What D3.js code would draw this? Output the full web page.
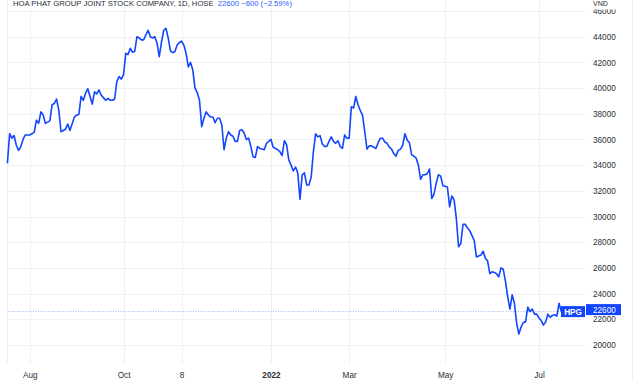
<!DOCTYPE html>
<html><head><meta charset="utf-8">
<script src="https://cdn.jsdelivr.net/npm/d3@7"></script>
<style>html,body{margin:0;padding:0;background:#fff;}svg{display:block;}</style>
</head><body>
<svg id="c" width="640" height="381"></svg>
<script>
// trading session number (0 = 19 Jul 2021) and closing price (VND)
const sessions = [0,1,2,3,4,5,6,7,8,10,12,13,14,15,16,17,19,20,21,22,23,24,26,27,28,30,31,32,33,34,35,36,37,38,39,40,41,42,44,45,46,47,48,
49,50,51,52,53,54,55,56,57,58,59,60,61,62,63,64,65,66,67,68,69,70,71,72,73,74,75,76,77,78,79,80,81,82,83,84,85,86,87,88,89,90,91,92,93,94,95,
96,97,98,99,100,101,102,103,104,105,106,107,108,109,110,111,112,113,114,115,116,118,119,121,122,123,124,125,126,127,128,129,130,131,132,133,134,135,136,137,138,139,140,141,142,143,144,145,146,
147,148,149,150,151,152,153,154,155,156,157,158,159,160,161,162,163,165,166,167,168,169,170,171,172,173,174,175,176,177,178,179,180,181,182,183,184,185,186,187,188,189,190,191,192,193,194,195,196,197,
198,199,200,201,202,203,204,205,206,207,209,210,212,213,214,215,216,217,218,219,220,221,222,223,224,225,226,227,228,229,230,231,232,233,234,235,236,237,238,239,240,241,242,243,244,245,246,247,248];
const prices = [34150,36450,36100,36300,35550,35150,35450,36000,36350,36350,36550,37500,37250,38150,37900,37250,37450,38700,38800,39150,38300,36600,36800,37200,36700,37750,37900,37950,39350,39050,39600,39950,39350,38750,39700,39550,39850,39450,39050,39200,39050,39050,39150,
40500,40900,40700,41050,42700,42600,43100,42800,42850,44000,43900,43750,43750,44150,44500,44000,43900,44000,43500,42450,43600,44500,44650,43900,42900,42750,42850,43350,43550,43650,43350,42700,41650,42000,41400,40000,39650,39050,37000,37650,38150,37900,37750,37750,37300,37650,37650,
37150,35200,36100,36600,36350,36250,35850,35850,36700,36750,36500,36000,36100,35450,34650,34600,35450,35300,35250,35200,35700,36000,35400,35200,35050,34750,35900,35600,34400,34000,33550,33850,33400,31350,33250,33400,32450,32450,33050,35050,36450,36200,36300,35650,35450,35450,35850,36200,35850,
35700,35900,35450,35300,36350,36100,36100,38550,38450,39350,38700,38250,37900,36600,35250,35500,35500,35300,35750,36100,36100,35800,35700,35400,35250,34900,34700,35150,35250,35550,36450,35950,35750,34800,34700,34550,34000,32900,33250,33250,33350,33700,31400,31750,32600,33250,33150,32400,32350,32300,
30750,31600,31300,29850,27650,27900,29400,29400,29100,28900,28150,26850,27000,27300,26750,26550,25550,25700,25650,25550,25300,26000,25900,24950,23750,22800,23900,23250,21700,20850,21400,21750,21800,22950,22600,22800,22400,22400,22100,21900,21550,21800,22400,22150,22300,22350,22250,23250,22600];

const tickSessions = [10, 52, 78, 118, 153, 196, 238];
const tickLabels = ["Aug", "Oct", "8", "2022", "Mar", "May", "Jul"];
const priceTicks = [20000,22000,24000,26000,28000,30000,32000,34000,36000,38000,40000,42000,44000,46000];
const titleText = "HOA PHAT GROUP JOINT STOCK COMPANY, 1D, HOSE";
const quoteText = "22600  \u2212600 (\u22122.59%)";
const symbol = "HPG";
const lastPrice = 22600;
const currency = "VND";

const data = sessions.map((s, i) => ({s, p: prices[i]}));
const svg = d3.select("#c");
const FONT = "'Liberation Sans', Arial, sans-serif";
const BLUE = "#1245ff";
const GRID = "#eef0f4";

const x = d3.scaleLinear().domain([0, 248]).range([7.4, 561.3]);
const y = d3.scaleLinear().domain([20000, 46000]).range([345, 11]);

// frame lines
svg.append("line").attr("x1",7.5).attr("x2",7.5).attr("y1",0).attr("y2",364).attr("stroke",GRID);
svg.append("line").attr("x1",632.5).attr("x2",632.5).attr("y1",0).attr("y2",381).attr("stroke",GRID);

// horizontal grid
svg.append("g").selectAll("line").data(priceTicks).join("line")
  .attr("x1", 8).attr("x2", 585).attr("y1", d => Math.round(y(d)) + 0.5).attr("y2", d => Math.round(y(d)) + 0.5)
  .attr("stroke", GRID);

// time axis
const xAxis = d3.axisBottom(x).tickValues(tickSessions).tickFormat((d, i) => tickLabels[i]).tickSize(0).tickPadding(0);
const xg = svg.append("g").attr("transform", "translate(0,378)").call(xAxis);
xg.select(".domain").remove();
xg.selectAll("text").attr("font-family", FONT).attr("font-size", 8.2).attr("fill", "#2a2e39").attr("dy", 0)
  .attr("font-weight", (d, i) => tickLabels[i] === "2022" ? "bold" : "normal");
svg.append("g").selectAll("line").data(tickSessions).join("line")
  .attr("x1", d => Math.round(x(d)) + 0.5).attr("x2", d => Math.round(x(d)) + 0.5)
  .attr("y1", 0).attr("y2", 364).attr("stroke", GRID);

// right price axis
const yAxis = d3.axisRight(y).tickValues(priceTicks).tickFormat(d3.format("d")).tickSize(0).tickPadding(0);
const yg = svg.append("g").attr("transform", "translate(593,0)").call(yAxis);
yg.select(".domain").remove();
yg.selectAll("text").attr("font-family", FONT).attr("font-size", 8.2).attr("fill", "#2a2e39").attr("x", 0);

// mask over top label + currency
svg.append("rect").attr("x", 586).attr("y", 0).attr("width", 45).attr("height", 9.5).attr("fill", "#fff");
svg.append("text").attr("x", 593).attr("y", 6).attr("font-family", FONT).attr("font-size", 7).attr("fill", "#2a2e39").text(currency);

// last price dotted line
svg.append("line").attr("x1", 8).attr("x2", x(248)).attr("y1", y(lastPrice)).attr("y2", y(lastPrice))
  .attr("stroke", "#8fb0ff").attr("stroke-width", 1).attr("stroke-dasharray", "1,1.5");

// price line
svg.append("path").datum(data)
  .attr("d", d3.line().x(d => x(d.s)).y(d => y(d.p)))
  .attr("fill", "none").attr("stroke", BLUE).attr("stroke-width", 1.6).attr("stroke-linejoin", "round");

// symbol label
const ly = y(lastPrice);
svg.append("rect").attr("x", 561).attr("y", ly - 5.5).attr("width", 24).attr("height", 11).attr("fill", BLUE);
svg.append("text").attr("x", 573).attr("y", ly + 3).attr("text-anchor", "middle").attr("font-family", FONT)
  .attr("font-size", 8.2).attr("font-weight", "bold").attr("fill", "#fff").text(symbol);
svg.append("rect").attr("x", 586).attr("y", ly - 7.5).attr("width", 35).attr("height", 11).attr("fill", BLUE);
svg.append("text").attr("x", 593).attr("y", ly + 1.2).attr("font-family", FONT)
  .attr("font-size", 8.2).attr("fill", "#fff").text(d3.format("d")(lastPrice));

// title
const t = svg.append("text").attr("x", 13).attr("y", 6).attr("font-family", FONT).attr("font-size", 7.7);
t.append("tspan").attr("fill", "#2a2e39").text(titleText);
t.append("tspan").attr("fill", "#2962ff").attr("dx", 4).text(quoteText);
</script>
</body></html>
